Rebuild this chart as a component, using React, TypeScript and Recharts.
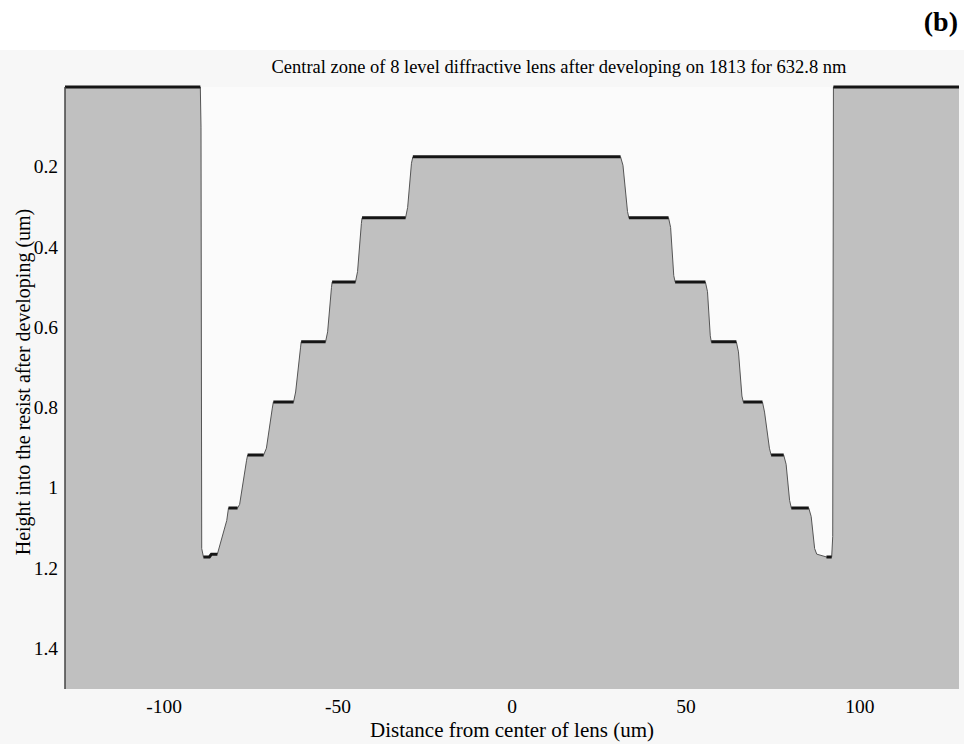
import { ComposedChart, Area, Line, XAxis, YAxis, CartesianGrid } from "recharts";

// profile of the developed resist, x in um from lens center, depth in um
const profileX = [
    -128.5, -89.6, -89.4, -89.2, -88.7, -87.0, -86.4, -84.7, -82.0, -81.5,
    -78.9, -78.3, -76.3, -76.0, -71.4, -70.6, -68.9, -68.6, -62.8, -62.2,
    -60.8, -60.6, -53.6, -53.0, -51.9, -51.7, -45.0, -44.4, -43.3, -43.1,
    -30.6, -30.0, -28.9, -28.5, 31.2, 31.9, 33.2, 33.6, 45.0, 45.6, 46.5,
    46.9, 55.6, 56.2, 57.0, 57.3, 64.5, 65.1, 66.1, 66.5, 72.0, 72.6, 74.0,
    74.5, 78.1, 78.8, 79.8, 80.3, 85.3, 86.0, 87.0, 87.6, 90.4, 91.9, 92.2,
    92.4, 128.5,
];
const profileDepth = [
    0, 0, 0.1, 1.15, 1.171, 1.171, 1.164, 1.164, 1.08, 1.049,
    1.049, 1.04, 0.93, 0.917, 0.917, 0.9, 0.8, 0.785, 0.785, 0.76,
    0.65, 0.635, 0.635, 0.61, 0.5, 0.486, 0.486, 0.46, 0.34, 0.326,
    0.326, 0.3, 0.19, 0.174, 0.174, 0.195, 0.31, 0.326, 0.326, 0.35, 0.47,
    0.486, 0.486, 0.51, 0.62, 0.635, 0.635, 0.66, 0.77, 0.785, 0.785, 0.81, 0.9,
    0.917, 0.917, 0.94, 1.03, 1.049, 1.049, 1.07, 1.15, 1.164, 1.171, 1.171, 1.12,
    0, 0,
];

const xTicks = [-100, -50, 0, 50, 100];
const yTicks = [0.2, 0.4, 0.6, 0.8, 1, 1.2, 1.4];

const data = profileX.map((x, i) => {
    const d = profileDepth[i];
    const flat = d === profileDepth[i - 1] || d === profileDepth[i + 1];
    return { x, depth: d, flat: flat ? d : null };
});

const serif = '"Liberation Serif", "Times New Roman", Times, serif';

function XTick({ x, y, payload }: any) {
    return (
        <text x={x} y={y + 24} textAnchor="middle" fontFamily={serif} fontSize={19.5} fill="#000">
            {payload.value}
        </text>
    );
}

function YTick({ x, y, payload }: any) {
    return (
        <text x={x} y={y + 6} textAnchor="end" fontFamily={serif} fontSize={19.5} fill="#000">
            {payload.value}
        </text>
    );
}

export default function App() {
    return (
        <div
            style={{
                position: "absolute",
                left: 0,
                top: 0,
                width: 964,
                height: 744,
                background: "#ffffff",
                fontFamily: serif,
                overflow: "hidden",
            }}
        >
            <div
                style={{
                    position: "absolute",
                    left: 0,
                    top: 50,
                    width: 964,
                    height: 694,
                    background: "#f7f7f7",
                }}
            />
            <div
                style={{
                    position: "absolute",
                    right: 6,
                    top: 6,
                    fontSize: 28,
                    fontWeight: "bold",
                    color: "#000",
                }}
            >
                (b)
            </div>
            <div
                style={{
                    position: "absolute",
                    left: 0,
                    width: 1118,
                    top: 57,
                    textAlign: "center",
                    fontSize: 18.5,
                    color: "#000",
                    whiteSpace: "nowrap",
                }}
            >
                Central zone of 8 level diffractive lens after developing on 1813 for 632.8 nm
            </div>
            <div style={{ position: "absolute", left: 0, top: 0 }}>
                <ComposedChart
                    width={964}
                    height={744}
                    data={data}
                    margin={{ top: 87, right: 5, bottom: 25, left: 15 }}
                >
                    <CartesianGrid horizontal={false} vertical={false} fill="#fbfbfb" />
                    <XAxis
                        type="number"
                        dataKey="x"
                        domain={[-128.5, 128.5]}
                        ticks={xTicks}
                        height={30}
                        axisLine={false}
                        tickLine={false}
                        tickSize={0}
                        tickMargin={0}
                        tick={<XTick />}
                    />
                    <YAxis
                        type="number"
                        domain={[0, 1.5]}
                        reversed
                        ticks={yTicks}
                        width={50}
                        axisLine={{ stroke: "#444", strokeWidth: 1.5 }}
                        tickLine={false}
                        tickSize={0}
                        tickMargin={7}
                        tick={<YTick />}
                    />
                    <YAxis
                        yAxisId="right"
                        orientation="right"
                        type="number"
                        domain={[0, 1.5]}
                        reversed
                        width={0}
                        tick={false}
                        tickLine={false}
                        axisLine={{ stroke: "#333", strokeWidth: 1.5 }}
                    />
                    <Area
                        type="linear"
                        dataKey="depth"
                        baseValue={1.5}
                        fill="#c0c0c0"
                        fillOpacity={1}
                        stroke="none"
                        isAnimationActive={false}
                    />
                    <Line
                        type="linear"
                        dataKey="depth"
                        stroke="#555"
                        strokeWidth={1}
                        dot={false}
                        isAnimationActive={false}
                    />
                    <Line
                        type="linear"
                        dataKey="flat"
                        stroke="#151515"
                        strokeWidth={3}
                        dot={false}
                        connectNulls={false}
                        isAnimationActive={false}
                    />
                </ComposedChart>
            </div>
            <div
                style={{
                    position: "absolute",
                    left: 0,
                    width: 1024,
                    top: 718,
                    textAlign: "center",
                    fontSize: 21,
                    color: "#000",
                    whiteSpace: "nowrap",
                }}
            >
                Distance from center of lens (um)
            </div>
            <div
                style={{
                    position: "absolute",
                    left: 23,
                    top: 382,
                    transform: "translate(-50%, -50%) rotate(-90deg)",
                    fontSize: 20,
                    color: "#000",
                    whiteSpace: "nowrap",
                }}
            >
                Height into the resist after developing (um)
            </div>
        </div>
    );
}
